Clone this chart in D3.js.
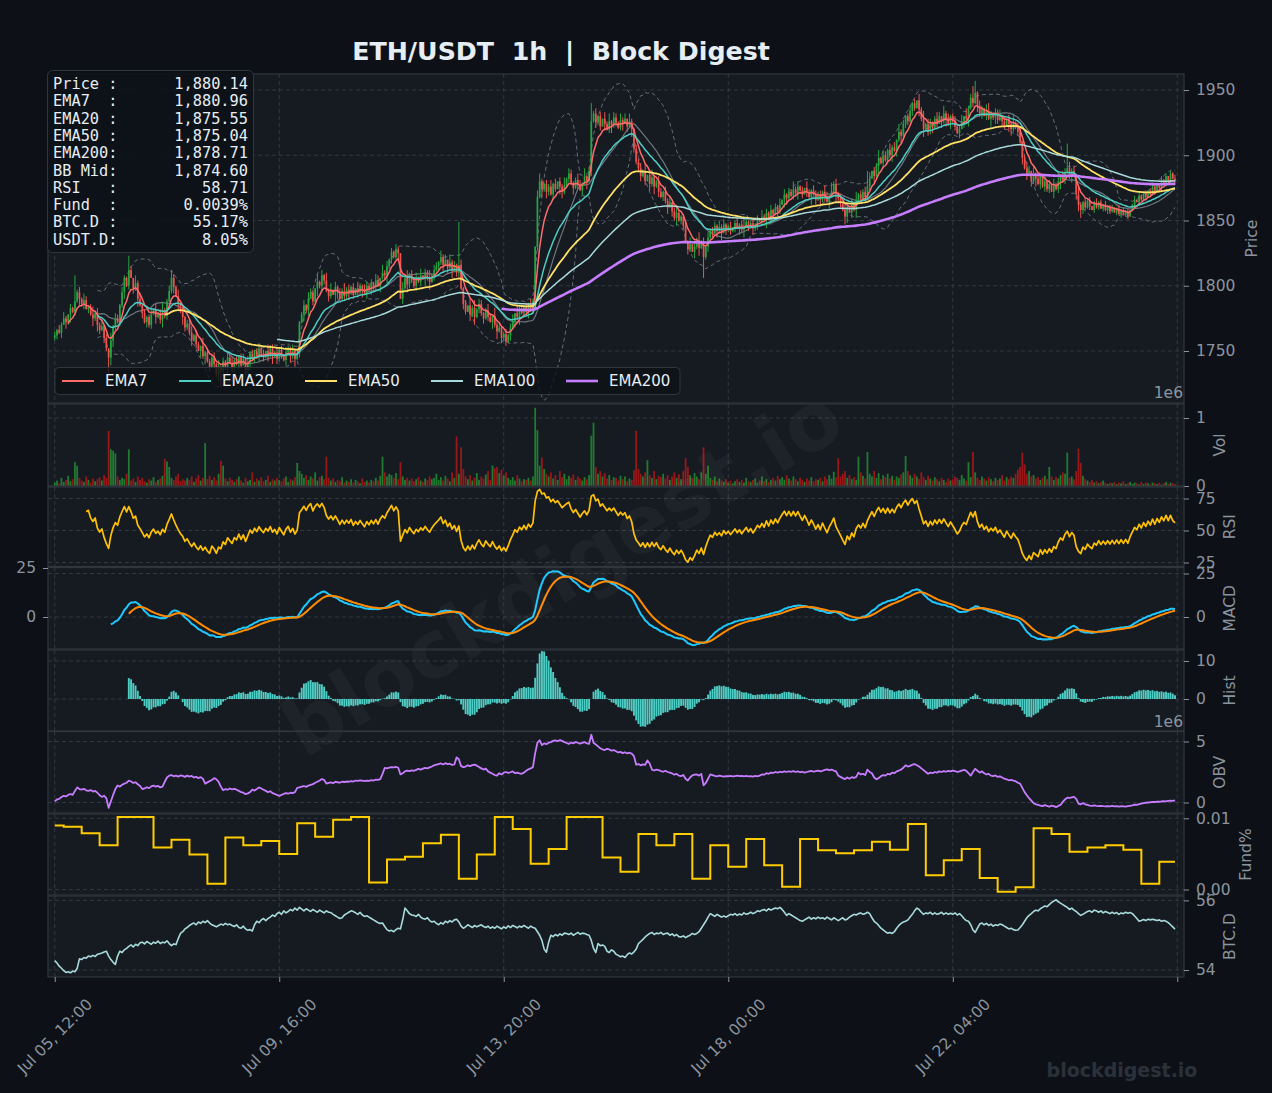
<!DOCTYPE html>
<html><head><meta charset="utf-8">
<script src="https://cdn.jsdelivr.net/npm/d3@7"></script>
<style>
html,body{margin:0;padding:0;background:#0d1117;}
svg{display:block;}
</style></head><body>
<svg id="chart" width="1272" height="1093"></svg>
<script>
// ---------------- DATA ----------------
const xTickHours = [0, 100, 200, 300, 400, 500];
const xTickLabels = ['Jul 05, 12:00', 'Jul 09, 16:00', 'Jul 13, 20:00', 'Jul 18, 00:00', 'Jul 22, 04:00', ''];

const open0 = 1760;
const closes = [
1762,1766,1764,1770,1775,1772,1778,1783,1780,1788,
1795,1790,1786,1789,1782,1784,1778,1775,1779,1770,
1766,1769,1760,1752,1745,1758,1768,1775,1772,1785,
1795,1806,1800,1812,1806,1798,1802,1790,1785,1779,
1772,1776,1770,1778,1782,1776,1779,1774,1781,1777,
1788,1796,1806,1799,1792,1786,1780,1776,1768,1771,
1764,1758,1762,1755,1750,1754,1746,1749,1742,1738,
1745,1740,1732,1738,1735,1742,1738,1745,1741,1737,
1743,1740,1746,1739,1744,1735,1741,1748,1744,1750,
1746,1752,1748,1745,1750,1747,1752,1746,1749,1744,
1751,1747,1743,1749,1752,1746,1750,1744,1748,1772,
1778,1785,1781,1790,1795,1788,1798,1803,1800,1808,
1804,1796,1792,1797,1793,1799,1795,1790,1796,1792,
1797,1794,1799,1793,1798,1795,1800,1797,1794,1800,
1797,1802,1799,1804,1800,1806,1810,1808,1815,1820,
1826,1822,1828,1825,1790,1798,1806,1801,1809,1804,
1800,1806,1803,1808,1805,1810,1806,1803,1808,1812,
1815,1818,1822,1816,1820,1814,1818,1812,1816,1810,
1816,1798,1786,1780,1785,1778,1783,1776,1782,1786,
1779,1775,1781,1776,1772,1777,1770,1765,1768,1760,
1763,1757,1762,1768,1773,1779,1776,1782,1779,1784,
1780,1786,1783,1788,1830,1868,1880,1874,1878,1872,
1876,1870,1878,1874,1880,1876,1872,1877,1882,1886,
1879,1875,1881,1877,1873,1879,1884,1880,1888,1926,
1932,1925,1930,1922,1928,1924,1920,1926,1923,1929,
1925,1921,1927,1924,1928,1922,1926,1920,1905,1895,
1890,1884,1888,1880,1885,1878,1883,1876,1880,1872,
1868,1872,1865,1860,1864,1857,1852,1856,1850,1853,
1846,1834,1828,1832,1826,1830,1835,1829,1834,1822,
1830,1837,1843,1840,1846,1842,1845,1841,1847,1843,
1846,1842,1845,1848,1844,1847,1843,1846,1849,1845,
1848,1844,1847,1851,1849,1853,1850,1856,1852,1858,
1855,1860,1857,1862,1866,1870,1867,1872,1869,1874,
1871,1876,1873,1870,1875,1872,1868,1873,1870,1866,
1870,1866,1872,1868,1864,1869,1873,1878,1871,1867,
1863,1858,1853,1860,1856,1862,1858,1866,1870,1867,
1872,1868,1876,1882,1888,1884,1892,1898,1894,1900,
1896,1904,1900,1906,1903,1912,1918,1915,1924,1930,
1926,1934,1940,1936,1942,1935,1928,1920,1924,1918,
1925,1921,1928,1924,1930,1926,1932,1928,1924,1930,
1926,1922,1917,1920,1926,1930,1928,1936,1944,1940,
1948,1938,1932,1936,1930,1934,1928,1932,1929,1933,
1927,1930,1926,1922,1928,1924,1920,1925,1921,1918,
1910,1898,1890,1884,1888,1880,1886,1882,1878,1884,
1876,1880,1874,1878,1872,1877,1874,1880,1884,1881,
1887,1890,1884,1888,1885,1870,1862,1858,1864,1860,
1865,1861,1858,1863,1860,1864,1859,1862,1858,1861,
1857,1860,1856,1859,1855,1858,1854,1857,1853,1858,
1862,1866,1864,1869,1866,1871,1868,1873,1870,1876,
1872,1878,1875,1881,1878,1884,1880,1886,1882,1880.14];

// wick sizes above / below the candle body (dollars), one digit per candle
const wickHi = '3142520316 2415302614 2513062431 4215306241 3125041362 2403152413 3514206132 2415031524 1302415231 2413052314 1304215231 2415320614 1325041326 2413052143 2315406241 3142052613 2415032614 3152406231 2413052614 3125306241 2413506231 3142056213 2514032614 3125406132 2413052614 3152406213 2415036214 3142503621 2315042613 1402315241 1302413521 2413052314 1325041326 2413052143 2315406241 3142052613 2415032614 3152406231 2413052614 3125306241 2413506231 3142056213 2514032614 3125406132 2413052614 3152406213 1302412031 1201302120 1302102013 2103120213';
const wickLo = '2314052613 1524031625 3142065213 2513042614 1423051362 3125041632 2413052614 1325042613 3142052613 2413052614 2314052613 1524031625 3142065213 2513042614 1423051362 3125041632 2413052614 1325042613 3142052613 2413052614 2314052613 1524031625 3142065213 2513042614 1423051362 3125041632 2413052614 1325042613 3142052613 2413052614 2314052613 1524031625 3142065213 2513042614 1423051362 3125041632 2413052614 1325042613 3142052613 2413052614 2314052613 1524031625 3142065213 2513042614 1423051362 3125041632 1302120213 2102130120 1203102021 2013021203';
const wickHiBig = [[9,20],[33,11],[52,6],[121,6],[180,33],[239,14],[362,12],[409,9],[410,9],[451,19]];
const wickLoBig = [[24,12],[74,13],[289,16],[352,6],[456,5]];

// volume in units of 10,000
const volumes = [
5,8,4,12,6,9,15,7,10,35,
30,12,8,6,14,9,5,11,7,10,
13,8,16,12,81,54,52,48,14,9,
12,10,18,54,8,11,6,14,9,12,
7,5,10,8,13,6,9,11,15,40,
36,28,12,9,14,18,7,10,8,12,
9,14,6,11,16,8,12,63,10,15,
9,13,8,18,37,30,11,7,12,9,
6,10,14,8,5,12,7,9,20,6,
11,8,13,7,9,15,6,10,8,12,
9,7,11,14,6,10,8,13,34,22,
18,12,16,9,14,11,20,8,13,15,
10,43,12,8,11,6,9,7,13,5,
8,6,10,5,9,7,4,11,6,8,
5,9,7,12,8,15,43,20,14,18,
16,12,19,10,35,14,9,12,8,11,
7,10,13,8,6,11,9,14,10,12,
18,9,13,8,15,11,7,20,12,73,
18,57,25,14,10,16,8,12,19,9,
14,11,17,22,9,30,26,28,19,24,
15,20,12,9,13,8,16,11,7,10,
9,12,8,14,115,82,30,42,25,18,
14,20,11,16,9,22,13,18,10,15,
12,17,9,14,11,8,13,10,16,74,
93,28,18,22,14,19,11,16,9,13,
12,8,15,10,14,7,11,9,23,81,
25,18,14,20,38,16,12,22,10,15,
13,18,11,16,9,14,20,12,17,10,
22,41,28,16,12,19,14,10,20,57,
18,30,12,9,14,7,11,8,6,10,
5,8,4,7,10,6,9,5,12,7,
6,9,11,5,8,14,7,10,6,9,
12,8,15,10,13,9,16,11,8,14,
10,7,12,9,6,11,8,13,7,10,
9,12,7,14,10,16,11,21,13,41,
14,18,22,12,16,10,13,9,43,20,
15,11,50,18,14,22,12,19,10,16,
13,18,11,15,9,14,12,17,20,44,
22,16,12,18,14,10,20,13,9,15,
11,8,13,10,7,12,9,6,11,8,
10,14,12,9,16,11,8,35,13,50,
20,12,9,14,11,8,13,10,7,12,
9,11,16,8,13,10,14,12,18,24,
28,49,32,18,22,14,16,11,13,9,
12,15,10,28,14,9,13,11,16,20,
18,49,12,14,10,22,55,34,15,10,
8,6,9,5,7,4,6,8,5,3,
5,4,6,3,5,4,7,3,4,6,
3,5,4,2,6,3,5,4,2,5,
4,3,5,2,4,6,3,5,4,3];

// on-balance volume, millions
const obv = [
0.10,0.25,0.30,0.45,0.55,0.50,0.62,0.70,0.62,0.95,
1.24,1.10,1.05,1.12,1.00,0.95,1.02,0.90,0.95,0.80,
0.60,0.46,0.55,0.35,-0.44,0.10,0.62,1.10,1.39,1.30,
1.45,1.55,1.62,1.80,1.72,1.60,1.66,1.50,1.35,1.10,
1.15,1.25,1.18,1.32,1.39,1.30,1.36,1.24,1.30,1.70,
2.05,2.20,2.25,2.15,2.20,2.12,2.22,2.18,2.10,2.20,
2.12,2.18,2.05,2.10,2.00,2.08,1.95,1.55,1.65,1.75,
1.85,2.00,1.90,1.70,1.30,1.00,1.10,1.05,1.15,1.08,
1.12,1.05,0.95,0.85,0.80,0.68,0.75,0.85,1.05,0.98,
1.10,1.24,1.15,1.05,0.95,0.85,0.92,0.77,0.70,0.62,
0.55,0.62,0.70,0.77,0.72,0.80,0.77,0.85,1.20,1.24,
1.30,1.35,1.28,1.39,1.45,1.50,1.62,1.70,1.80,1.92,
1.85,1.55,1.60,1.65,1.58,1.70,1.66,1.62,1.70,1.68,
1.72,1.70,1.76,1.72,1.80,1.78,1.82,1.79,1.75,1.80,
1.78,1.84,1.80,1.88,1.85,1.92,2.35,2.84,2.80,2.86,
2.90,2.88,2.92,2.85,2.30,2.40,2.55,2.62,2.58,2.64,
2.60,2.68,2.75,2.70,2.78,2.84,2.80,2.88,2.95,3.05,
3.10,3.15,3.20,3.12,3.22,3.15,3.18,3.08,3.12,3.70,
3.55,2.98,2.90,2.95,3.05,2.98,3.06,3.10,3.02,2.90,
2.80,2.70,2.78,2.55,2.45,2.35,2.25,2.20,2.40,2.30,
2.45,2.50,2.42,2.48,2.55,2.40,2.45,2.38,2.35,2.45,
2.60,2.72,2.80,2.90,4.05,4.90,5.10,4.70,4.85,4.78,
4.90,4.95,5.05,5.10,5.02,5.12,5.05,4.95,4.88,4.80,
4.92,4.85,4.95,4.90,4.82,4.88,4.95,4.85,4.80,5.55,
4.90,4.75,4.60,4.45,4.35,4.30,4.40,4.35,4.25,4.30,
4.20,4.10,4.15,4.05,4.12,4.02,4.08,4.00,3.80,3.10,
3.15,3.05,3.12,3.08,3.45,3.20,2.70,2.62,2.70,2.65,
2.58,2.52,2.60,2.50,2.45,2.38,2.28,2.35,2.20,2.16,
2.25,1.95,1.80,2.05,2.22,2.28,2.30,2.20,2.35,1.40,
1.60,1.95,2.30,2.25,2.18,2.15,2.20,2.16,2.12,2.16,
2.15,2.18,2.14,2.17,2.20,2.16,2.19,2.15,2.18,2.14,
2.17,2.12,2.18,2.15,2.20,2.30,2.28,2.40,2.35,2.45,
2.42,2.50,2.45,2.52,2.48,2.55,2.50,2.56,2.52,2.58,
2.50,2.55,2.48,2.52,2.45,2.50,2.55,2.60,2.52,2.58,
2.62,2.55,2.60,2.68,2.72,2.65,2.70,2.62,2.55,2.20,
2.10,2.00,1.92,2.05,1.95,2.08,2.02,2.10,2.45,2.30,
2.35,2.25,2.70,2.50,2.40,2.05,1.90,2.00,2.15,2.25,
2.20,2.35,2.30,2.45,2.40,2.55,2.62,2.70,2.85,3.05,
2.95,3.00,3.10,3.15,3.05,2.95,2.80,2.65,2.50,2.35,
2.45,2.40,2.50,2.45,2.55,2.50,2.58,2.52,2.60,2.55,
2.62,2.58,2.50,2.55,2.62,2.68,2.60,2.40,2.20,2.50,
2.76,2.60,2.45,2.55,2.40,2.30,2.35,2.20,2.16,2.22,
2.10,2.15,2.05,1.95,1.90,1.82,1.86,1.80,1.75,1.62,
1.55,1.20,0.85,0.60,0.35,0.15,-0.05,-0.15,-0.20,-0.25,
-0.30,-0.22,-0.28,-0.35,-0.25,-0.30,-0.38,-0.28,-0.20,0.05,
0.25,0.40,0.38,0.42,0.46,0.30,-0.10,-0.15,-0.05,-0.15,
-0.20,-0.25,-0.28,-0.24,-0.28,-0.30,-0.27,-0.30,-0.32,-0.29,
-0.31,-0.28,-0.32,-0.30,-0.33,-0.29,-0.31,-0.34,-0.30,-0.27,
-0.24,-0.18,-0.20,-0.14,-0.10,-0.06,-0.02,0.00,0.02,0.05,
0.04,0.08,0.06,0.10,0.12,0.09,0.14,0.16,0.13,0.18];

// funding rate (%), one value per 8-hour period (first period is the 4h stub)
const funding = [
0.0090,0.0088,0.0079,0.0062,0.0102,0.0102,0.0059,0.0070,0.0049,0.0008,
0.0073,0.0062,0.0068,0.0050,0.0093,0.0074,0.0098,0.0102,0.0010,0.0042,
0.0046,0.0065,0.0077,0.0015,0.0049,0.0102,0.0085,0.0036,0.0057,0.0102,
0.0102,0.0045,0.0025,0.0078,0.0062,0.0078,0.0015,0.0062,0.0032,0.0071,
0.0034,0.0004,0.0071,0.0055,0.0051,0.0055,0.0067,0.0056,0.0092,0.0020,
0.0041,0.0057,0.0016,-0.0003,0.0003,0.0086,0.0078,0.0053,0.0059,0.0062,
0.0056,0.0008,0.0039];

// BTC dominance, %
const btcd = [
54.27,54.20,54.11,54.05,53.98,53.93,53.95,53.92,53.97,53.95,
54.05,54.32,54.30,54.36,54.34,54.40,54.38,54.42,54.39,54.45,
54.47,54.49,54.52,54.54,54.40,54.30,54.22,54.16,54.40,54.54,
54.50,54.58,54.62,54.68,54.72,54.66,54.74,54.70,54.78,54.80,
54.75,54.82,54.78,54.74,54.80,54.77,54.83,54.76,54.80,54.78,
54.84,54.76,54.70,54.75,54.73,54.90,55.05,55.10,55.18,55.22,
55.28,55.32,55.35,55.30,55.38,55.34,55.40,55.36,55.42,55.35,
55.30,55.27,55.24,55.28,55.32,55.29,55.34,55.30,55.32,55.28,
55.25,55.30,55.22,55.20,55.26,55.18,55.14,55.16,55.12,55.30,
55.40,55.36,55.44,55.48,55.42,55.48,55.52,55.58,55.54,55.62,
55.66,55.60,55.70,55.64,55.68,55.74,55.70,55.78,55.72,55.80,
55.75,55.70,55.76,55.72,55.68,55.74,55.70,55.66,55.72,55.68,
55.64,55.70,55.66,55.65,55.60,55.56,55.52,55.48,55.50,55.58,
55.62,55.66,55.70,55.68,55.64,55.60,55.66,55.58,55.54,55.56,
55.52,55.48,55.44,55.40,55.36,55.34,55.35,55.25,55.16,55.12,
55.14,55.10,55.16,55.20,55.18,55.45,55.78,55.70,55.62,55.58,
55.57,55.54,55.60,55.52,55.48,55.46,55.50,55.42,55.38,55.40,
55.34,55.30,55.36,55.32,55.40,55.36,55.42,55.38,55.44,55.46,
55.38,55.26,55.20,55.24,55.30,55.26,55.22,55.28,55.24,55.27,
55.30,55.25,55.22,55.26,55.20,55.24,55.20,55.26,55.22,55.18,
55.24,55.20,55.27,55.22,55.28,55.25,55.21,55.26,55.23,55.28,
55.24,55.20,55.26,55.22,55.20,55.10,55.00,54.85,54.60,54.51,
54.80,55.00,54.96,55.02,54.98,55.04,55.00,55.06,55.05,55.02,
55.06,55.00,55.04,55.08,55.03,55.06,55.05,55.02,55.00,54.85,
54.62,54.50,54.76,54.70,54.72,54.68,54.54,54.50,54.58,54.54,
54.45,54.42,54.38,54.40,54.36,54.44,54.49,54.46,54.52,54.60,
54.76,54.82,54.88,54.95,55.00,55.05,55.08,55.02,55.06,55.04,
55.08,55.02,55.05,55.06,55.00,55.04,54.98,55.02,54.96,54.95,
54.98,54.93,54.97,55.00,55.05,55.02,55.05,55.10,55.20,55.30,
55.40,55.52,55.62,55.58,55.54,55.60,55.56,55.52,55.55,55.52,
55.56,55.60,55.58,55.62,55.57,55.61,55.58,55.64,55.60,55.62,
55.66,55.62,55.65,55.70,55.68,55.72,55.74,55.70,55.76,55.72,
55.75,55.78,55.76,55.80,55.74,55.66,55.57,55.62,55.58,55.54,
55.50,55.46,55.42,55.40,55.44,55.48,55.52,55.46,55.50,55.47,
55.52,55.48,55.50,55.46,55.52,55.48,55.44,55.50,55.46,55.42,
55.46,55.50,55.44,55.46,55.52,55.56,55.60,55.58,55.62,55.64,
55.60,55.62,55.66,55.62,55.50,55.40,55.35,55.28,55.20,55.15,
55.10,55.06,55.08,55.05,55.10,55.20,55.28,55.34,55.38,55.40,
55.44,55.52,55.60,55.70,55.78,55.74,55.66,55.60,55.64,55.62,
55.66,55.60,55.64,55.60,55.62,55.66,55.60,55.64,55.60,55.63,
55.60,55.64,55.58,55.62,55.56,55.48,55.42,55.40,55.30,55.15,
55.08,55.20,55.32,55.35,55.30,55.34,55.28,55.32,55.26,55.30,
55.28,55.32,55.30,55.26,55.22,55.18,55.20,55.16,55.14,55.15,
55.22,55.30,55.40,55.50,55.57,55.62,55.68,55.72,55.70,55.76,
55.80,55.84,55.82,55.88,55.94,55.98,56.02,55.96,55.92,55.88,
55.84,55.80,55.74,55.78,55.72,55.68,55.62,55.57,55.60,55.64,
55.68,55.70,55.66,55.72,55.70,55.66,55.70,55.64,55.68,55.65,
55.62,55.66,55.62,55.65,55.60,55.64,55.62,55.66,55.63,55.65,
55.62,55.55,55.48,55.40,55.42,55.45,55.42,55.46,55.44,55.46,
55.44,55.42,55.44,55.40,55.42,55.40,55.36,55.30,55.24,55.17];

const infoLabels = ['Price :', 'EMA7  :', 'EMA20 :', 'EMA50 :', 'EMA200:', 'BB Mid:', 'RSI   :', 'Fund  :', 'BTC.D :', 'USDT.D:'];
const infoValues = ['1,880.14', '1,880.96', '1,875.55', '1,875.04', '1,878.71', '1,874.60', '58.71', '0.0039%', '55.17%', '8.05%'];

const legendNames = ['EMA7', 'EMA20', 'EMA50', 'EMA100', 'EMA200'];
const emaSpans = [7, 20, 50, 100, 200];

// ---------------- STYLE ----------------
const C = {
  bg: '#0d1117', panel: '#161b22', border: '#30363d', grid: '#3a404a', text: '#8b949e',
  up: '#26a641', down: '#ef5350', volUp: 'rgba(34,140,52,0.85)', volDown: 'rgba(175,24,24,0.85)',
  ema: ['#ff6b6b', '#4ecdc4', '#ffe066', '#a8dadc', '#c77dff'],
  bb: '#6e7681', rsi: '#ffc107', macd: '#1ec8ff', signal: '#ff8c00', hist: '#4ecdc4',
  obv: '#c77dff', fund: '#ffcc00', btcd: '#a8dadc'
};
const FONT = '"DejaVu Sans", sans-serif';
const MONO = '"DejaVu Sans Mono", monospace';
const AXF = 15.5;

// ---------------- COMPUTATION ----------------
const N = closes.length;
const opens = closes.map((c, i) => i === 0 ? open0 : closes[i - 1]);
const hiW = wickHi.replace(/\s/g, '').split('').map(Number);
const loW = wickLo.replace(/\s/g, '').split('').map(Number);
wickHiBig.forEach(([i, v]) => hiW[i] = v);
wickLoBig.forEach(([i, v]) => loW[i] = v);
const highs = closes.map((c, i) => Math.max(c, opens[i]) + hiW[i]);
const lows = closes.map((c, i) => Math.min(c, opens[i]) - loW[i]);

function ema(arr, span, minP) {
  const k = 2 / (span + 1); const out = new Array(arr.length).fill(null);
  let e = null, cnt = 0;
  for (let i = 0; i < arr.length; i++) {
    if (arr[i] == null) continue;
    e = e == null ? arr[i] : k * arr[i] + (1 - k) * e; cnt++;
    if (cnt >= minP) out[i] = e;
  }
  return out;
}
const emas = emaSpans.map(s => ema(closes, s, s));
const bbMid = [], bbUp = [], bbLo = [];
for (let i = 0; i < N; i++) {
  if (i < 19) { bbMid.push(null); bbUp.push(null); bbLo.push(null); continue; }
  const w = closes.slice(i - 19, i + 1); const m = d3.mean(w); const s = d3.deviation(w);
  bbMid.push(m); bbUp.push(m + 2 * s); bbLo.push(m - 2 * s);
}
function rsiCalc(c, p) {
  const out = new Array(c.length).fill(null); let g = 0, l = 0;
  for (let i = 1; i <= p; i++) { const d = c[i] - c[i - 1]; if (d > 0) g += d; else l -= d; }
  g /= p; l /= p; out[p] = 100 - 100 / (1 + g / l);
  for (let i = p + 1; i < c.length; i++) {
    const d = c[i] - c[i - 1];
    g = (g * (p - 1) + Math.max(d, 0)) / p; l = (l * (p - 1) + Math.max(-d, 0)) / p;
    out[i] = l === 0 ? 100 : 100 - 100 / (1 + g / l);
  }
  return out;
}
const rsi = rsiCalc(closes, 14);
const e12 = ema(closes, 12, 1), e26 = ema(closes, 26, 1);
const macd = closes.map((c, i) => i >= 25 ? e12[i] - e26[i] : null);
const signal = ema(macd, 9, 9);
const hist = macd.map((m, i) => (m != null && signal[i] != null) ? m - signal[i] : null);
const fundPts = funding.map((v, k) => [k === 0 ? 0 : 4 + 8 * (k - 1), v]);
fundPts.push([N - 1, funding[funding.length - 1]]);

// ---------------- DRAW ----------------
const W = 1272, H = 1093, L = 48, R = 1184;
const svg = d3.select('#chart');
svg.append('rect').attr('width', W).attr('height', H).attr('fill', C.bg);
const x = d3.scaleLinear().domain([-3, 503]).range([L, R]);

const P = {
  price: { top: 74, bot: 403, dom: [1750, 1950], rng: [351, 90], ticks: [1750, 1800, 1850, 1900, 1950], fmt: d => d, title: 'Price', tx: 1252 },
  vol: { top: 404, bot: 486, dom: [0, 1e6], rng: [486, 418], ticks: [0, 1e6], fmt: d => d / 1e6, title: 'Vol', tx: 1220 },
  rsi: { top: 487, bot: 566.5, dom: [25, 75], rng: [562.5, 498.5], ticks: [25, 50, 75], fmt: d => d, title: 'RSI', tx: 1230 },
  macd: { top: 567.5, bot: 649, dom: [0, 25], rng: [617, 573.5], ticks: [0, 25], fmt: d => d, title: 'MACD', tx: 1230 },
  hist: { top: 650, bot: 731, dom: [0, 10], rng: [699, 661], ticks: [0, 10], fmt: d => d, title: 'Hist', tx: 1230 },
  obv: { top: 731.5, bot: 813, dom: [0, 5e6], rng: [802.5, 741.5], ticks: [0, 5e6], fmt: d => d / 1e6, title: 'OBV', tx: 1220 },
  fund: { top: 814, bot: 895, dom: [0, 0.01], rng: [889.5, 818.3], ticks: [0, 0.01], fmt: d => d.toFixed(2), title: 'Fund%', tx: 1246 },
  btcd: { top: 896, bot: 977, dom: [54, 56], rng: [970, 900.4], ticks: [54, 56], fmt: d => d, title: 'BTC.D', tx: 1230 }
};
const defs = svg.append('defs');
Object.entries(P).forEach(([key, p]) => {
  p.y = d3.scaleLinear().domain(p.dom).range(p.rng);
  svg.append('rect').attr('x', L).attr('y', p.top).attr('width', R - L).attr('height', p.bot - p.top).attr('fill', C.panel);
  const grid = svg.append('g').attr('stroke', C.grid).attr('stroke-width', 0.8).attr('stroke-dasharray', '4,3');
  p.ticks.forEach(t => grid.append('line').attr('x1', L).attr('x2', R).attr('y1', p.y(t)).attr('y2', p.y(t)));
  xTickHours.forEach(h => grid.append('line').attr('x1', x(h)).attr('x2', x(h)).attr('y1', p.top).attr('y2', p.bot));
  defs.append('clipPath').attr('id', 'clip-' + key).append('rect').attr('x', L).attr('y', p.top).attr('width', R - L).attr('height', p.bot - p.top);
  p.g = svg.append('g').attr('clip-path', `url(#clip-${key})`);
});

// watermark
svg.append('text').attr('transform', 'translate(562,572) rotate(-31)').attr('text-anchor', 'middle').attr('dy', '0.35em')
  .attr('font-family', FONT).attr('font-weight', 'bold').attr('font-size', 80).attr('fill', 'rgba(255,255,255,0.035)').text('blockdigest.io');

function linePath(g, arr, yS, color, w, dash, op) {
  g.append('path').attr('d', d3.line().defined(d => d[1] != null).x(d => x(d[0])).y(d => yS(d[1]))(arr.map((v, i) => [i, v])))
    .attr('fill', 'none').attr('stroke', color).attr('stroke-width', w).attr('stroke-dasharray', dash || null)
    .attr('stroke-opacity', op == null ? 1 : op).attr('stroke-linejoin', 'round');
}

// price panel
const py = P.price.y, pg = P.price.g;
linePath(pg, bbUp, py, C.bb, 1, '4,3', 0.9);
linePath(pg, bbLo, py, C.bb, 1, '4,3', 0.9);
linePath(pg, bbMid, py, '#8b949e', 1.2, null, 0.75);
const cg = pg.append('g');
closes.forEach((c, i) => {
  const o = opens[i], col = c >= o ? C.up : C.down;
  cg.append('line').attr('x1', x(i)).attr('x2', x(i)).attr('y1', py(highs[i])).attr('y2', py(lows[i])).attr('stroke', col).attr('stroke-width', 1);
  const y0 = py(Math.max(o, c)), h = Math.max(1, Math.abs(py(o) - py(c)));
  cg.append('rect').attr('x', x(i) - 0.85).attr('width', 1.7).attr('y', y0).attr('height', h).attr('fill', col);
});
const emaW = [1.5, 1.5, 1.8, 1.5, 2.6];
emas.forEach((e, k) => linePath(pg, e, py, C.ema[k], emaW[k]));

// volume
const vy = P.vol.y;
volumes.forEach((v, i) => {
  const val = v * 1e4;
  P.vol.g.append('rect').attr('x', x(i) - 0.9).attr('width', 1.8).attr('y', vy(val)).attr('height', vy(0) - vy(val))
    .attr('fill', closes[i] >= opens[i] ? C.volUp : C.volDown);
});
// RSI
linePath(P.rsi.g, rsi, P.rsi.y, C.rsi, 1.7);
// MACD
linePath(P.macd.g, macd, P.macd.y, C.macd, 2);
linePath(P.macd.g, signal, P.macd.y, C.signal, 2);
// Hist
const hy = P.hist.y;
hist.forEach((v, i) => {
  if (v == null) return;
  P.hist.g.append('rect').attr('x', x(i) - 0.95).attr('width', 1.9).attr('y', Math.min(hy(v), hy(0)))
    .attr('height', Math.abs(hy(v) - hy(0))).attr('fill', C.hist);
});
// OBV
linePath(P.obv.g, obv.map(v => v * 1e6), P.obv.y, C.obv, 1.8);
// Funding
P.fund.g.append('path').attr('d', d3.line().curve(d3.curveStepAfter).x(d => x(d[0])).y(d => P.fund.y(d[1]))(fundPts))
  .attr('fill', 'none').attr('stroke', C.fund).attr('stroke-width', 2);
// BTC.D
linePath(P.btcd.g, btcd, P.btcd.y, C.btcd, 1.6);

// borders + axes
Object.entries(P).forEach(([key, p]) => {
  svg.append('rect').attr('x', L).attr('y', p.top).attr('width', R - L).attr('height', p.bot - p.top)
    .attr('fill', 'none').attr('stroke', C.border).attr('stroke-width', 1.2);
  const ax = svg.append('g').attr('transform', `translate(${R},0)`)
    .call(d3.axisRight(p.y).tickValues(p.ticks).tickFormat(p.fmt).tickSize(5).tickPadding(7));
  ax.select('.domain').remove();
  ax.selectAll('line').attr('stroke', C.text);
  ax.selectAll('text').attr('fill', C.text).attr('font-size', AXF).attr('font-family', FONT);
  svg.append('text').attr('transform', `translate(${p.tx},${(p.top + p.bot) / 2}) rotate(-90)`).attr('text-anchor', 'middle')
    .attr('dy', '0.35em').attr('fill', C.text).attr('font-size', AXF).attr('font-family', FONT).text(p.title);
});
// left MACD axis
const macdLeft = d3.scaleLinear().domain([0, 25]).range([617, 568]);
const axl = svg.append('g').attr('transform', `translate(${L},0)`)
  .call(d3.axisLeft(macdLeft).tickValues([0, 25]).tickSize(5).tickPadding(7));
axl.select('.domain').remove();
axl.selectAll('line').attr('stroke', C.text);
axl.selectAll('text').attr('fill', C.text).attr('font-size', AXF).attr('font-family', FONT);
// offset labels
[[398, '1e6'], [727, '1e6']].forEach(([yy, t]) => svg.append('text').attr('x', 1183).attr('y', yy).attr('text-anchor', 'end')
  .attr('fill', C.text).attr('font-size', AXF).attr('font-family', FONT).text(t));

// x axis
const axb = svg.append('g').attr('transform', 'translate(0,977)').call(d3.axisBottom(x).tickValues(xTickHours).tickFormat('').tickSize(5));
axb.select('.domain').remove();
axb.selectAll('line').attr('stroke', C.text);
xTickHours.forEach((h, k) => {
  if (!xTickLabels[k]) return;
  svg.append('text').attr('transform', `translate(${x(h)},1036) rotate(-45)`).attr('text-anchor', 'middle').attr('dy', '0.35em')
    .attr('fill', C.text).attr('font-size', 15.5).attr('font-family', FONT).text(xTickLabels[k]);
});

// legend
const lg = svg.append('g');
lg.append('rect').attr('x', 55).attr('y', 367.5).attr('width', 625).attr('height', 27).attr('rx', 4)
  .attr('fill', 'rgba(13,17,23,0.8)').attr('stroke', C.border);
const legX = [62, 179, 305, 431, 566];
legendNames.forEach((n, k) => {
  lg.append('line').attr('x1', legX[k]).attr('x2', legX[k] + 32).attr('y1', 381).attr('y2', 381)
    .attr('stroke', C.ema[k]).attr('stroke-width', k === 4 ? 2.6 : 2);
  lg.append('text').attr('x', legX[k] + 43).attr('y', 381).attr('dy', '0.35em').attr('fill', '#e6edf3')
    .attr('font-size', 15).attr('font-family', FONT).text(n);
});

// info box
const ib = svg.append('g');
ib.append('rect').attr('x', 47.5).attr('y', 70.5).attr('width', 206).attr('height', 182).attr('rx', 5)
  .attr('fill', 'rgba(13,17,23,0.88)').attr('stroke', C.border);
infoLabels.forEach((lab, k) => {
  const yy = 83.5 + k * 17.33;
  ib.append('text').attr('x', 53).attr('y', yy).attr('dy', '0.35em').attr('fill', '#e6edf3').attr('font-size', 15.3)
    .attr('font-family', MONO).attr('xml:space', 'preserve').style('white-space', 'pre').text(lab);
  ib.append('text').attr('x', 248).attr('y', yy).attr('dy', '0.35em').attr('text-anchor', 'end').attr('fill', '#e6edf3')
    .attr('font-size', 15.3).attr('font-family', MONO).text(infoValues[k]);
});

// title
svg.append('text').attr('x', 561).attr('y', 60).attr('text-anchor', 'middle').attr('fill', '#e6edf3')
  .attr('font-size', 25.3).attr('font-weight', 'bold').attr('font-family', FONT).style('white-space', 'pre')
  .text('ETH/USDT  1h  |  Block Digest');
// footer brand
svg.append('text').attr('x', 1122).attr('y', 1077).attr('text-anchor', 'middle').attr('fill', '#2b313a')
  .attr('font-size', 19).attr('font-weight', 'bold').attr('font-family', FONT).text('blockdigest.io');
</script>
</body></html>
